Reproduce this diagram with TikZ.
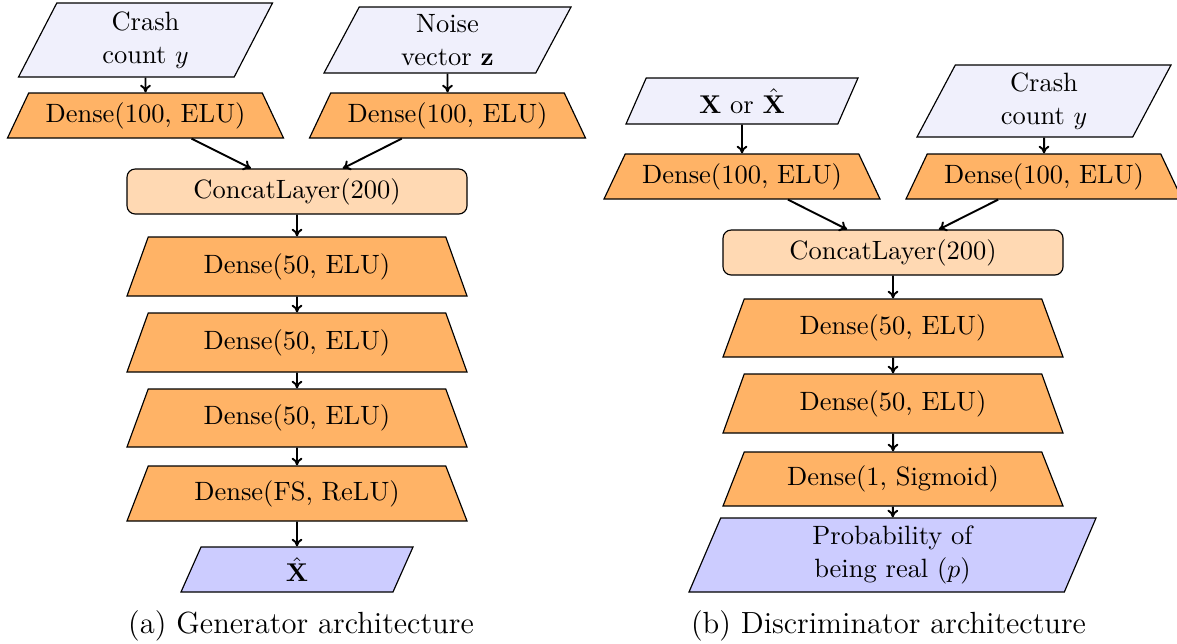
\documentclass[tikz,border=0pt]{standalone}
\usetikzlibrary{shapes.geometric, arrows.meta}

\definecolor{inputfill}{RGB}{240,240,252}
\definecolor{densefill}{RGB}{255,179,102}
\definecolor{concatfill}{RGB}{255,217,179}
\definecolor{outputfill}{RGB}{204,204,255}

\def\unitpx{0.389pt}

\tikzset{
  sz/.style 2 args={minimum width=#1*\unitpx, minimum height=#2*\unitpx},
  layer/.style={draw=black, line width=0.45pt, inner sep=2pt, align=center,
    font=\fontsize{10.3}{12.6}\selectfont},
  dense/.style={layer, trapezium, fill=densefill,
    trapezium left angle=60, trapezium right angle=60,
    trapezium stretches body},
  datain/.style={layer, trapezium, fill=inputfill,
    trapezium left angle=60, trapezium right angle=120,
    trapezium stretches body},
  dataout/.style={datain, fill=outputfill},
  concat/.style={layer, rectangle, rounded corners=3.2pt, fill=concatfill},
  flow/.style={-{To[length=3pt, width=4.2pt]}, line width=0.75pt},
  caption/.style={anchor=base, font=\fontsize{11.9}{14}\selectfont}
}

\begin{document}
\begin{tikzpicture}[x=0.389pt, y=-0.389pt]
\useasboundingbox (0,0) rectangle (1177,643);

% ---------- generator ----------
\node[datain, sz={254}{74}] (gy) at (145.5,40) {Crash\\count $y$};
\node[datain, sz={247}{66}] (gz) at (447.5,40) {Noise\\vector $\mathbf{z}$};
\node[dense, sz={276}{45}] (gd1) at (145.5,115.5) {Dense(100, ELU)};
\node[dense, sz={276}{45}] (gd2) at (447.5,115.5) {Dense(100, ELU)};
\node[concat, sz={340}{45}] (gcat) at (297,191.5) {ConcatLayer(200)};
\node[dense, sz={340}{59}] (gd3) at (297,266.5) {Dense(50, ELU)};
\node[dense, sz={340}{59}] (gd4) at (297,342.5) {Dense(50, ELU)};
\node[dense, sz={340}{58}] (gd5) at (297,418) {Dense(50, ELU)};
\node[dense, sz={340}{55}] (gd6) at (297,493.5) {Dense(FS, ReLU)};
\node[dataout, sz={232}{45}] (gx) at (297,569.5) {$\hat{\mathbf{X}}$};

\draw[flow] (gy) -- (gd1);
\draw[flow] (gz) -- (gd2);
\draw[flow] (gd1) -- (gcat);
\draw[flow] (gd2) -- (gcat);
\draw[flow] (gcat) -- (gd3);
\draw[flow] (gd3) -- (gd4);
\draw[flow] (gd4) -- (gd5);
\draw[flow] (gd5) -- (gd6);
\draw[flow] (gd6) -- (gx);

\node[caption] (capa) at (301,633) {(a) Generator architecture};

% ---------- discriminator ----------
\node[datain, sz={232}{46}] (dx) at (742,101) {$\mathbf{X}$ or $\hat{\mathbf{X}}$};
\node[datain, sz={254}{72}] (dy) at (1044,101) {Crash\\count $y$};
\node[dense, sz={276}{45}] (dd1) at (742,176.5) {Dense(100, ELU)};
\node[dense, sz={276}{45}] (dd2) at (1044,176.5) {Dense(100, ELU)};
\node[concat, sz={340}{45}] (dcat) at (893,252.5) {ConcatLayer(200)};
\node[dense, sz={340}{58}] (dd3) at (893,328) {Dense(50, ELU)};
\node[dense, sz={340}{59}] (dd4) at (893,403.5) {Dense(50, ELU)};
\node[dense, sz={340}{54}] (dd5) at (893,479) {Dense(1, Sigmoid)};
\node[dataout, sz={407}{74}, trapezium left angle=65, trapezium right angle=115]
  (dp) at (892.5,555) {Probability of\\being real ($p$)};

\draw[flow] (dx) -- (dd1);
\draw[flow] (dy) -- (dd2);
\draw[flow] (dd1) -- (dcat);
\draw[flow] (dd2) -- (dcat);
\draw[flow] (dcat) -- (dd3);
\draw[flow] (dd3) -- (dd4);
\draw[flow] (dd4) -- (dd5);
\draw[flow] (dd5) -- (dp);

\node[caption] (capb) at (888.5,633) {(b) Discriminator architecture};
\end{tikzpicture}
\end{document}
